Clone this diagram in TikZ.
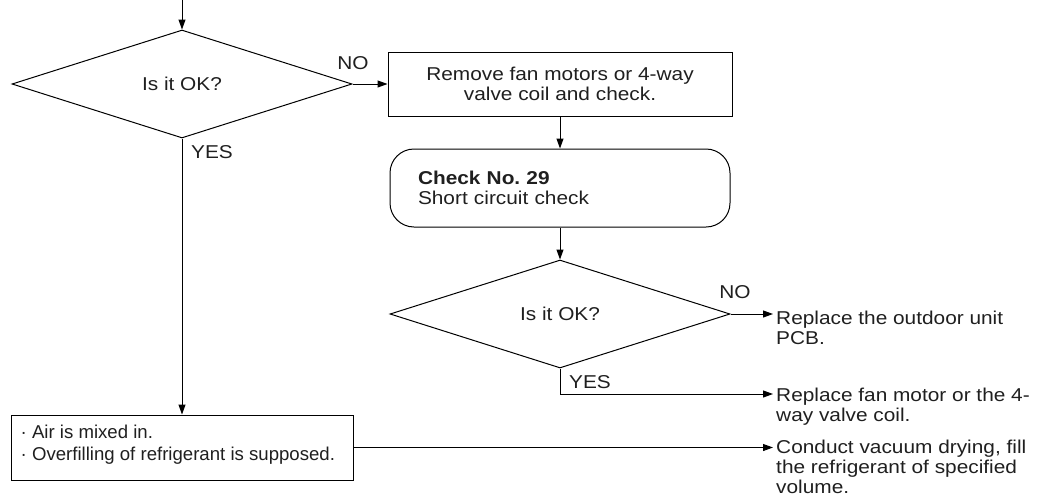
\documentclass[tikz,border=0pt]{standalone}
\usepackage{fontspec}
\setmainfont{Liberation Sans}[FakeStretch=1.12]
\newfontfamily\plainsans{Liberation Sans}
\usetikzlibrary{shapes.geometric,arrows.meta}
\begin{document}
\begin{tikzpicture}[x=1pt,y=-1pt,
  every node/.style={font=\fontsize{18.6}{20}\selectfont, text=black!88},
  line/.style={line width=1pt},
  arr/.style={line, -{Triangle[length=10pt,width=7pt]}},
  dec/.style={diamond, draw, line width=1pt, inner sep=0pt, minimum width=340pt, minimum height=108pt},
  box/.style={draw, line width=1pt},
  lbl/.style={inner sep=0pt},
  outtxt/.style={anchor=north west, inner sep=0pt, align=left}]
\useasboundingbox (0,0) rectangle (1051,498);
% first decision
\coordinate (top) at (182,0);
\node[dec] (d1) at (182,84) {Is it OK?};
\draw[arr] (top) -- (d1.north);
\node[box, minimum width=344pt, minimum height=64pt, align=center] (b1) at (560,84) {Remove fan motors or 4-way\\valve coil and check.};
\draw[arr] (d1.east) -- (b1.west);
\node[lbl] (no1) at (353,63) {NO};
\node[lbl] (yes1) at (212,152) {YES};
% check 29
\node[box, rounded corners=24pt, minimum width=340pt, minimum height=78pt, text width=284pt, inner xsep=28pt, align=left] (c29) at (560,188) {\textbf{Check No.\ 29}\\Short circuit check};
\draw[arr] (b1.south) -- (c29.north);
% second decision
\node[dec] (d2) at (560,314) {Is it OK?};
\draw[arr] (c29.south) -- (d2.north);
\node[lbl] (no2) at (735,292) {NO};
\node[lbl] (yes2) at (590,382) {YES};
\node[outtxt] (o1) at (776,311) {Replace the outdoor unit\\PCB.};
\draw[arr, shorten >=3pt] (d2.east) -- (d2.east -| o1.west);
\node[outtxt] (o2) at (776,388) {Replace fan motor or the 4-\\way valve coil.};
\coordinate (y2) at (773,394);
\draw[arr] (d2.south) |- (y2);
% bottom box
\node[box, minimum width=342pt, minimum height=65pt] (b3) at (182,447.5) {};
\node[anchor=west, inner sep=0pt, align=left, font=\plainsans\fontsize{18.6}{22}\selectfont, yshift=3pt] (b3t) at ([xshift=10pt]b3.west) {· Air is mixed in.\\· Overfilling of refrigerant is supposed.};
\draw[arr] (d1.south) -- (b3.north);
\node[outtxt] (o3) at (776,440) {Conduct vacuum drying, fill\\the refrigerant of specified\\volume.};
\draw[arr, shorten >=3pt] (b3.east) -- (b3.east -| o3.west);
\end{tikzpicture}
\end{document}
